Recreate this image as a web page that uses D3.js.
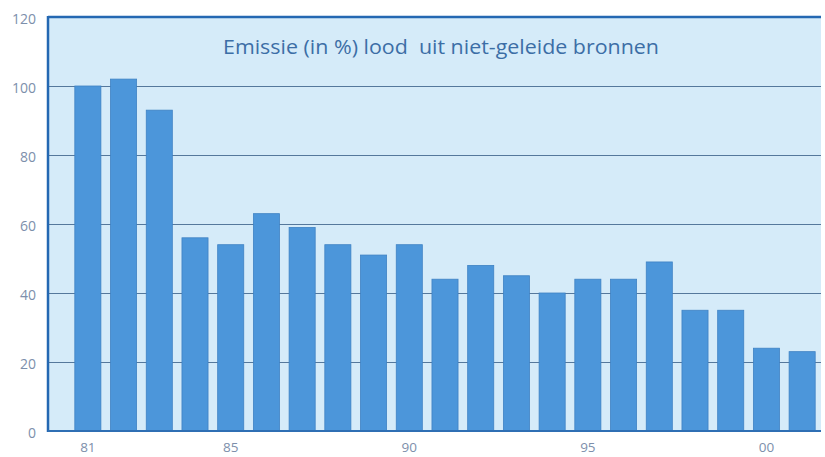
<!DOCTYPE html>
<html>
<head>
<meta charset="utf-8">
<script src="https://cdn.jsdelivr.net/npm/d3@7"></script>
<style>
  html, body { margin: 0; padding: 0; background: #ffffff; }
  svg { display: block; }
</style>
</head>
<body>
<svg id="chart" width="825" height="457"></svg>
<script>
const years = ["81","82","83","84","85","86","87","88","89","90","91","92","93","94","95","96","97","98","99","00","01"];
const values = [100,102,93,56,54,63,59,54,51,54,44,48,45,40,44,44,49,35,35,24,23];
const xTickLabels = ["81","85","90","95","00"];
const yTicks = [0,20,40,60,80,100,120];
const title = "Emissie (in %) lood  uit niet-geleide bronnen";

(function () {
const svg = d3.select("#chart");
const pLeft = 48, pRight = 821, pTop = 17, pBottom = 431;

const x = d3.scaleBand().domain(years).range([70, 820]).paddingInner(0.27).paddingOuter(0.135);
const y = d3.scaleLinear().domain([0, 120]).range([pBottom, pTop]);

// plot background
svg.append("rect").attr("x", pLeft).attr("y", pTop).attr("width", pRight - pLeft).attr("height", pBottom - pTop)
  .attr("fill", "#d5ebf9");

// gridlines
svg.append("g").selectAll("line").data(yTicks.filter(t => t > 0 && t < 120)).join("line")
  .attr("x1", pLeft).attr("x2", pRight)
  .attr("y1", d => Math.round(y(d)) + 0.5).attr("y2", d => Math.round(y(d)) + 0.5)
  .attr("stroke", "#55789c").attr("stroke-width", 1.2);

// bars
svg.append("g").selectAll("rect").data(values).join("rect")
  .attr("x", (d, i) => x(years[i]))
  .attr("y", d => y(d))
  .attr("width", x.bandwidth())
  .attr("height", d => pBottom - y(d))
  .attr("fill", "#4c96da")
  .attr("stroke", "#3f82c4").attr("stroke-width", 0.8);

// frame
svg.append("line").attr("x1", pLeft).attr("x2", pLeft).attr("y1", pTop - 1).attr("y2", pBottom + 1)
  .attr("stroke", "#2468b2").attr("stroke-width", 2.5);
svg.append("line").attr("x1", pLeft).attr("x2", pRight).attr("y1", pTop).attr("y2", pTop)
  .attr("stroke", "#2468b2").attr("stroke-width", 2.5);
svg.append("line").attr("x1", pLeft).attr("x2", pRight).attr("y1", pBottom).attr("y2", pBottom)
  .attr("stroke", "#2f6fb4").attr("stroke-width", 2);

// y axis labels
const yAxis = d3.axisLeft(y).tickValues(yTicks).tickSize(0).tickPadding(12);
const gy = svg.append("g").attr("transform", `translate(${pLeft},0)`).call(yAxis);
gy.select(".domain").remove();
gy.selectAll("text").attr("font-family", "'Open Sans', sans-serif").attr("font-size", 14)
  .attr("fill", "#7d8fab").attr("dy", "0.45em");

// x axis labels
const xAxis = d3.axisBottom(x).tickValues(xTickLabels).tickSize(0).tickPadding(11);
const gx = svg.append("g").attr("transform", `translate(0,${pBottom})`).call(xAxis);
gx.select(".domain").remove();
gx.selectAll("text").attr("font-family", "'Open Sans', sans-serif").attr("font-size", 13.5)
  .attr("fill", "#7d8fab");

// title
svg.append("text").attr("x", 441).attr("y", 54).attr("text-anchor", "middle")
  .style("white-space", "pre")
  .attr("font-family", "'Open Sans', sans-serif").attr("font-size", 19.5)
  .attr("textLength", 436).attr("lengthAdjust", "spacingAndGlyphs")
  .attr("fill", "#3c6ea6").text(title);
})();
</script>
</body>
</html>
